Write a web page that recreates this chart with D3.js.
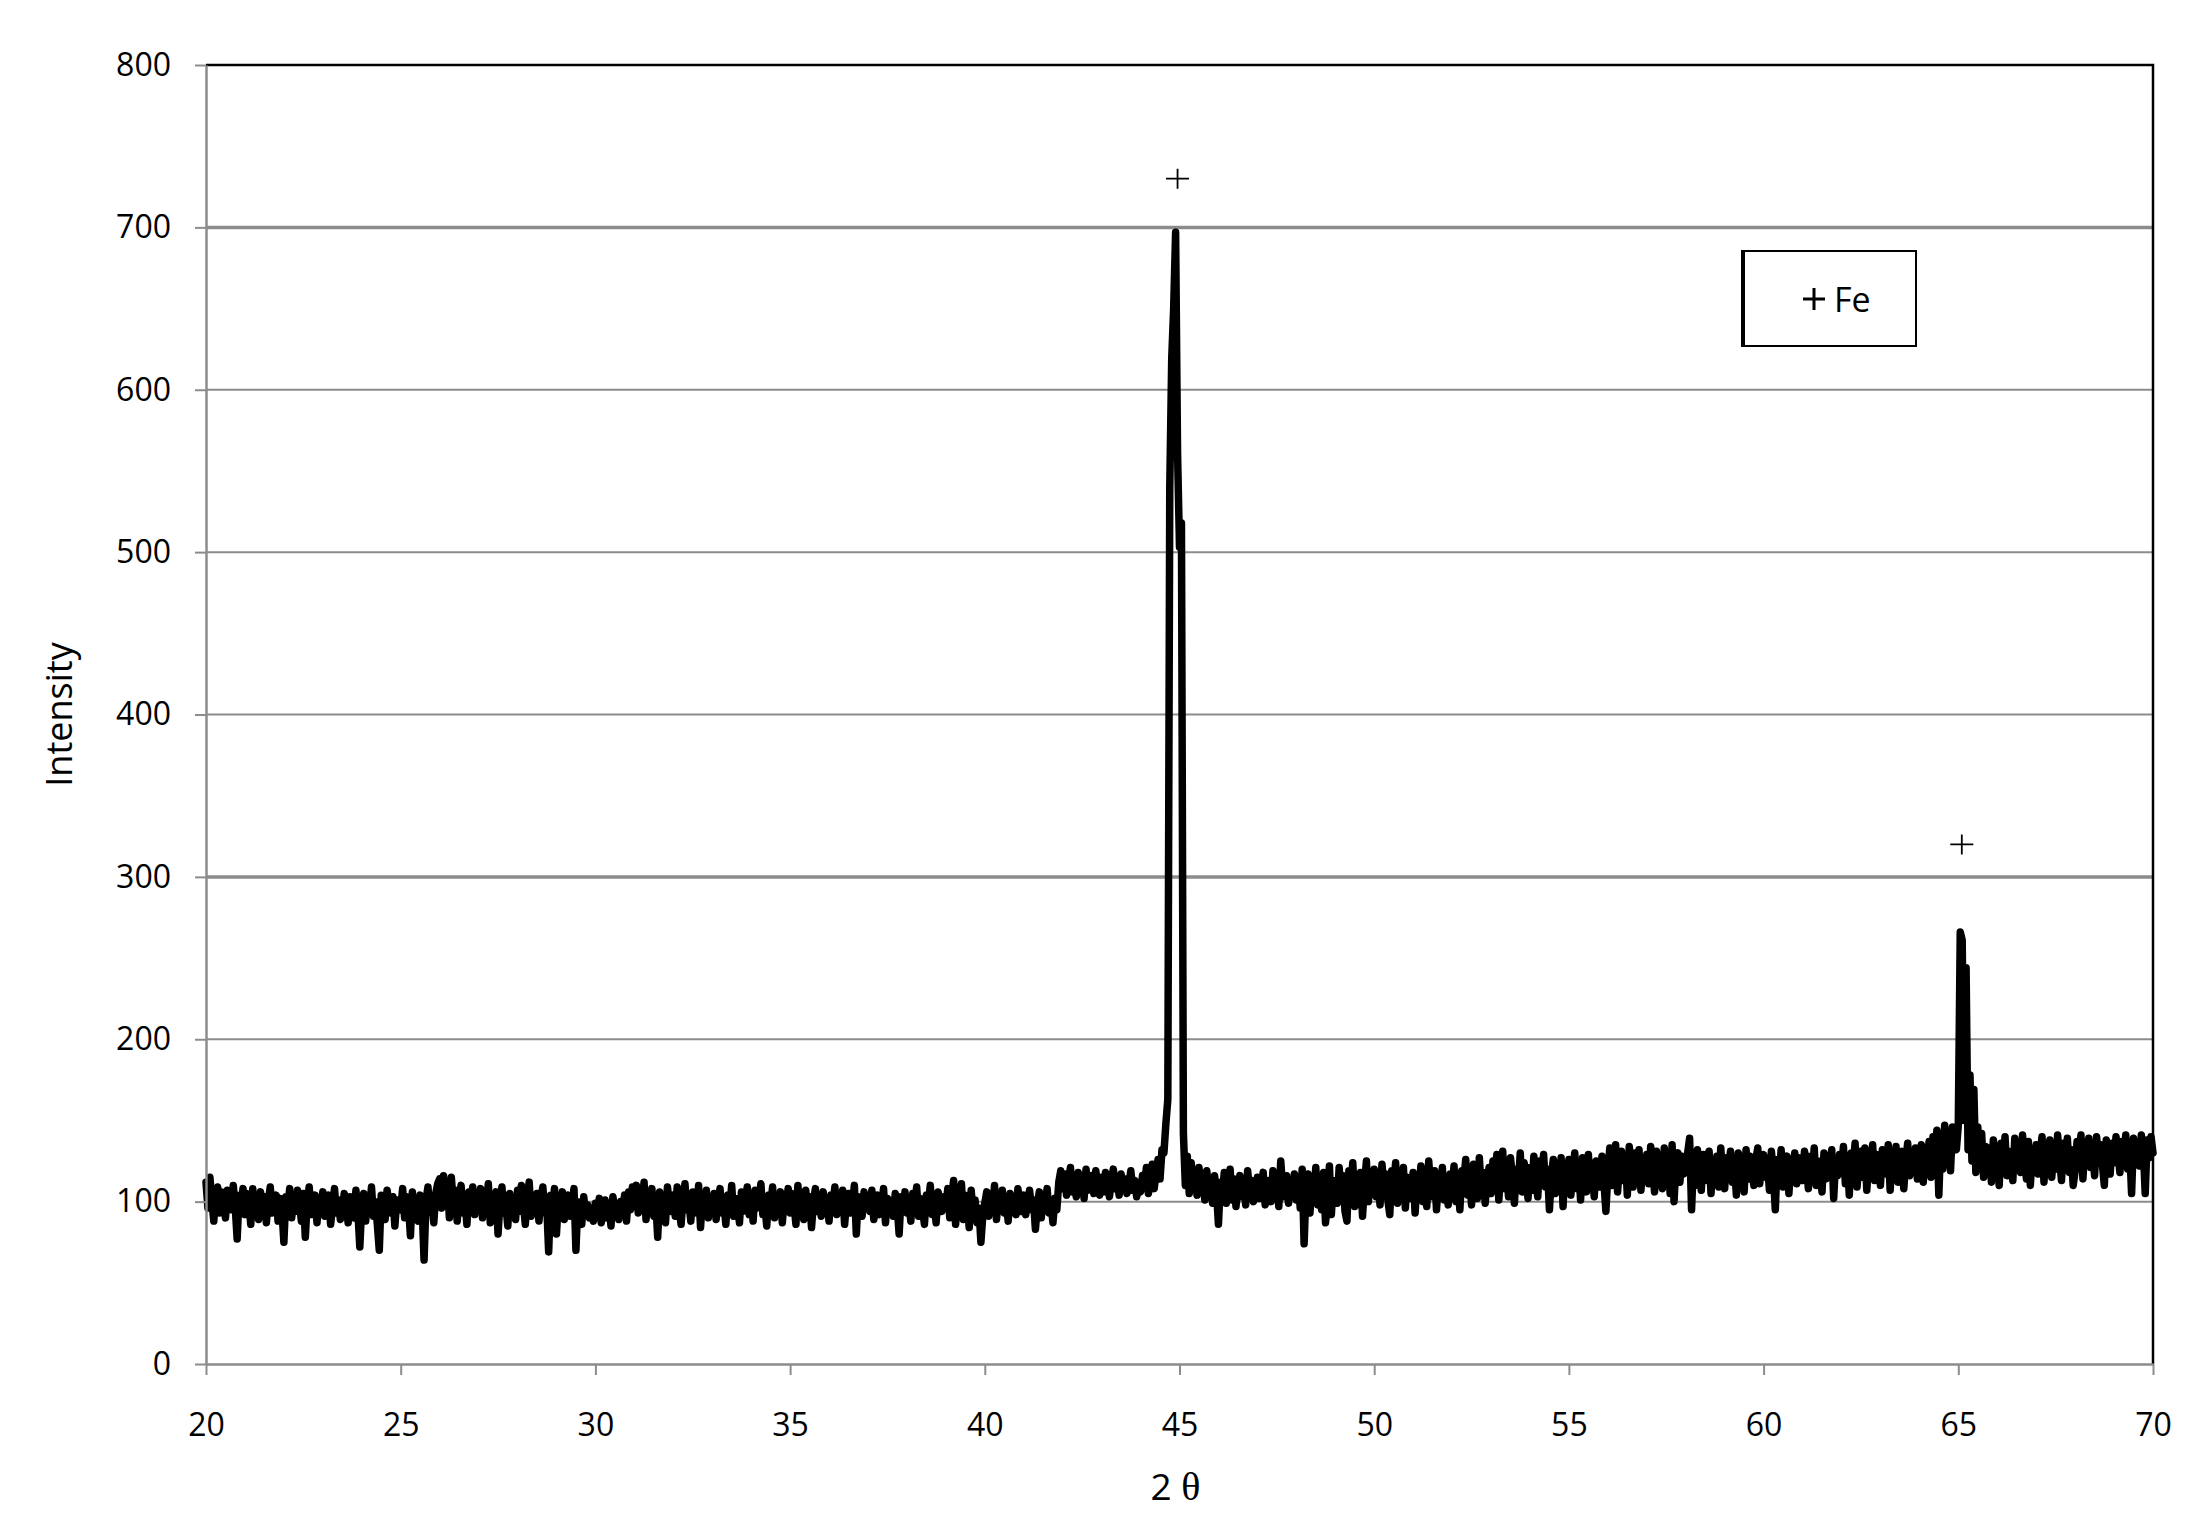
<!DOCTYPE html>
<html>
<head>
<meta charset="UTF-8">
<style>
  body { margin: 0; background: #fff; }
  svg { display: block; font-family: "Open Sans", sans-serif; }
</style>
</head>
<body>
<svg></svg>
<script src="https://d3js.org/d3.v7.min.js"></script>
<script>

// scan grid (2 theta, degrees)
const thetaStart = 20, thetaStep = 0.05;

// intensity counts, one row per degree (20 values each)
const intensity = [
  112, 96, 115, 101, 88, 104, 109, 93, 106, 98, 90, 107, 103, 95, 110, 97, 77, 104, 99, 108,      // 20
  92, 105, 99, 86, 108, 94, 101, 89, 106, 97, 103, 87, 100, 109, 93, 98, 104, 88, 102, 95,        // 21
  75, 103, 96, 108, 90, 101, 94, 107, 99, 88, 105, 78, 100, 109, 92, 97, 104, 87, 101, 95,        // 22
  106, 91, 99, 104, 86, 97, 108, 93, 101, 89, 95, 105, 98, 87, 103, 96, 90, 107, 94, 72,          // 23
  98, 105, 88, 102, 94, 109, 91, 100, 86, 70, 104, 96, 89, 107, 99, 93, 103, 85, 101, 97,         // 24
  95, 108, 90, 103, 98, 79, 106, 92, 100, 88, 104, 97, 64, 101, 109, 94, 99, 87, 105, 111,        // 25
  114, 96, 116, 102, 112, 90, 115, 99, 107, 88, 104, 110, 93, 101, 86, 106, 98, 109, 92, 103,     // 26
  97, 108, 90, 104, 99, 111, 87, 102, 95, 106, 80, 100, 109, 93, 98, 85, 105, 96, 101, 89,        // 27
  107, 94, 110, 99, 86, 103, 112, 91, 100, 96, 105, 88, 102, 109, 93, 98, 69, 104, 97, 108,       // 28
  80, 101, 94, 106, 89, 99, 104, 91, 97, 108, 70, 100, 95, 86, 103, 92, 98, 90, 96, 88,           // 29
  99, 92, 102, 87, 96, 101, 90, 98, 85, 103, 94, 97, 89, 100, 93, 104, 88, 106, 95, 109,          // 30
  101, 110, 93, 105, 98, 112, 89, 103, 96, 108, 91, 100, 78, 106, 95, 102, 87, 109, 99, 94,       // 31
  104, 91, 109, 97, 86, 102, 111, 95, 100, 88, 106, 98, 93, 110, 84, 103, 96, 107, 90, 101,       // 32
  97, 105, 89, 101, 108, 93, 99, 86, 104, 95, 110, 91, 102, 98, 87, 106, 94, 100, 109, 92,        // 33
  103, 88, 107, 96, 100, 111, 92, 98, 85, 104, 97, 109, 90, 101, 94, 106, 87, 102, 99, 108,       // 34
  93, 105, 98, 86, 110, 95, 101, 89, 107, 97, 103, 84, 100, 108, 94, 99, 91, 106, 96, 102,        // 35
  88, 104, 99, 109, 92, 101, 95, 107, 86, 100, 105, 93, 98, 110, 80, 103, 96, 91, 106, 97,        // 36
  101, 94, 107, 89, 99, 104, 92, 98, 108, 87, 102, 95, 100, 91, 105, 97, 80, 103, 96, 106,        // 37
  93, 100, 88, 105, 97, 109, 91, 102, 95, 86, 104, 99, 110, 92, 98, 87, 106, 101, 94, 103,        // 38
  97, 108, 90, 103, 113, 86, 100, 95, 111, 89, 104, 98, 84, 107, 93, 101, 87, 96, 75, 92,         // 39
  99, 106, 91, 103, 95, 110, 89, 101, 97, 107, 93, 100, 88, 105, 96, 102, 92, 108, 98, 94,        // 40
  104, 92, 100, 107, 95, 101, 83, 98, 106, 90, 103, 96, 108, 93, 99, 87, 102, 95, 112, 119,       // 41
  108, 117, 104, 113, 121, 106, 110, 103, 118, 109, 114, 102, 120, 107, 111, 116, 105, 119, 110, 104, // 42
  115, 106, 118, 110, 103, 113, 120, 108, 112, 104, 117, 109, 114, 105, 111, 119, 107, 113, 103, 110, // 43
  106, 116, 109, 121, 105, 112, 123, 108, 118, 126, 114, 132, 130, 148, 163, 540, 619, 650, 697, 561, // 44
  503, 518, 142, 110, 128, 105, 124, 112, 118, 104, 121, 109, 115, 101, 119, 107, 113, 99, 116, 106, // 45
  86, 112, 104, 118, 99, 110, 120, 101, 114, 97, 108, 116, 103, 111, 98, 119, 106, 113, 100, 109, // 46
  115, 102, 110, 118, 98, 107, 113, 100, 119, 105, 111, 97, 125, 108, 103, 116, 99, 112, 106, 117, // 47
  101, 114, 96, 120, 74, 109, 117, 93, 112, 104, 121, 98, 110, 95, 118, 87, 100, 122, 92, 113,    // 48
  112, 99, 121, 105, 116, 94, 88, 119, 108, 124, 97, 113, 102, 118, 91, 110, 125, 100, 115, 106,  // 49
  120, 103, 114, 98, 123, 109, 117, 101, 92, 119, 107, 124, 99, 112, 105, 121, 96, 115, 110, 102, // 50
  118, 93, 113, 106, 122, 100, 116, 97, 125, 109, 103, 119, 95, 114, 107, 121, 101, 111, 98, 117, // 51
  108, 122, 100, 116, 95, 119, 112, 126, 104, 115, 98, 123, 110, 102, 127, 107, 118, 99, 113, 121, // 52
  105, 125, 112, 129, 101, 118, 131, 108, 122, 103, 127, 115, 99, 120, 110, 130, 106, 124, 114, 102, // 53
  121, 107, 128, 113, 103, 125, 117, 129, 109, 120, 95, 116, 126, 105, 119, 111, 127, 97, 123, 110, // 54
  126, 104, 118, 130, 108, 122, 101, 127, 114, 106, 129, 111, 120, 103, 125, 116, 109, 128, 112, 94, // 55
  117, 133, 110, 126, 135, 106, 124, 131, 113, 128, 104, 134, 120, 109, 130, 116, 132, 107, 125, 119, // 56
  129, 111, 134, 122, 106, 131, 118, 127, 108, 133, 115, 126, 105, 135, 100, 124, 130, 112, 128, 117, // 57
  121, 130, 139, 95, 126, 110, 132, 118, 107, 129, 123, 113, 131, 105, 125, 119, 128, 109, 133, 116, // 58
  108, 127, 120, 131, 112, 125, 104, 130, 117, 122, 106, 132, 114, 128, 119, 110, 126, 133, 111, 124, // 59
  129, 115, 123, 107, 131, 118, 95, 126, 112, 132, 109, 121, 128, 105, 124, 116, 130, 111, 127, 120, // 60
  113, 131, 122, 108, 128, 117, 133, 110, 125, 119, 106, 130, 114, 127, 121, 132, 102, 126, 116, 129, // 61
  118, 134, 111, 128, 104, 130, 122, 136, 109, 125, 131, 115, 133, 107, 127, 120, 135, 113, 129, 124, // 62
  110, 132, 126, 117, 135, 107, 129, 121, 134, 112, 127, 131, 108, 125, 136, 116, 130, 119, 133, 114, // 63
  128, 135, 112, 131, 123, 137, 115, 140, 126, 144, 104, 138, 120, 147, 129, 142, 119, 146, 136, 132, // 64
  147, 266, 261, 150, 244, 132, 178, 125, 169, 118, 146, 121, 142, 115, 134, 120, 133, 112, 138, 124, // 65
  127, 110, 136, 121, 140, 116, 131, 125, 113, 139, 122, 134, 118, 141, 126, 114, 137, 110, 130, 123, // 66
  135, 117, 129, 140, 112, 133, 124, 138, 115, 131, 120, 141, 127, 113, 136, 122, 139, 118, 132, 110, // 67
  119, 137, 128, 141, 114, 134, 125, 139, 121, 132, 116, 140, 127, 135, 123, 110, 138, 129, 117, 136, // 68
  124, 140, 131, 118, 137, 126, 141, 120, 134, 105, 139, 128, 136, 122, 141, 133, 105, 138, 127, 140, // 69
  130                                                                                              // 70
];

const xTicks = [20, 25, 30, 35, 40, 45, 50, 55, 60, 65, 70];
const yTicks = [0, 100, 200, 300, 400, 500, 600, 700, 800];
const peakMarks = [{ t: 44.95, v: 730 }, { t: 65.09, v: 320 }];
const legendLabel = "Fe";
const xTitle = "2", xTitleSym = "θ";
const yTitle = "Intensity";

const width = 2202, height = 1527;
const margin = { top: 65, right: 49, bottom: 163, left: 206 };

const svg = d3.select("svg")
    .attr("width", width)
    .attr("height", height);

svg.append("rect").attr("width", width).attr("height", height).attr("fill", "#fff");

const x = d3.scaleLinear().domain([20, 70]).range([margin.left, width - margin.right]);
const y = d3.scaleLinear().domain([0, 800]).range([height - margin.bottom, margin.top]);

const data = intensity.map((v, i) => ({ t: thetaStart + i * thetaStep, v: v }));

// gridlines
svg.append("g")
    .selectAll("line")
    .data(yTicks.filter(d => d > 0 && d < 800))
    .join("line")
    .attr("x1", x(20)).attr("x2", x(70))
    .attr("y1", d => y(d)).attr("y2", d => y(d))
    .attr("stroke", "#8c8c8c")
    .attr("stroke-width", d => (d === 300 || d === 700) ? 3.5 : 2);

// plot area border, top and right
svg.append("path")
    .attr("d", `M${x(20)},${y(800)}H${x(70)}V${y(0)}`)
    .attr("fill", "none")
    .attr("stroke", "#000")
    .attr("stroke-width", 2.5);

// the scan
const line = d3.line()
    .x(d => x(d.t))
    .y(d => y(d.v));

svg.append("path")
    .datum(data)
    .attr("d", line)
    .attr("fill", "none")
    .attr("stroke", "#000")
    .attr("stroke-width", 7.5)
    .attr("stroke-linejoin", "round")
    .attr("stroke-linecap", "round");

// axes
const yAxis = svg.append("g")
    .attr("transform", `translate(${margin.left},0)`)
    .call(d3.axisLeft(y).tickValues(yTicks).tickSize(11).tickSizeOuter(0).tickPadding(24));

const xAxis = svg.append("g")
    .attr("transform", `translate(0,${height - margin.bottom})`)
    .call(d3.axisBottom(x).tickValues(xTicks).tickSize(11).tickSizeOuter(0).tickPadding(38));

[yAxis, xAxis].forEach(a => {
    a.select(".domain").attr("stroke", "#8c8c8c").attr("stroke-width", 2.5);
    a.selectAll(".tick line").attr("stroke", "#8c8c8c").attr("stroke-width", 2);
    a.selectAll(".tick text")
        .attr("fill", "#000")
        .style("font-family", "'Open Sans', sans-serif")
        .style("font-size", "32px");
});

// peak markers
svg.append("g")
    .selectAll("path")
    .data(peakMarks)
    .join("path")
    .attr("d", d => `M${x(d.t) - 11.5},${y(d.v)}h23M${x(d.t)},${y(d.v) - 10}v20`)
    .attr("stroke", "#000")
    .attr("stroke-width", 1.8)
    .attr("fill", "none");

// legend
const legend = svg.append("g");
legend.append("rect")
    .attr("x", 1742).attr("y", 251)
    .attr("width", 174).attr("height", 95)
    .attr("fill", "#fff")
    .attr("stroke", "#000")
    .attr("stroke-width", 2);
legend.append("line")
    .attr("x1", 1743).attr("x2", 1743)
    .attr("y1", 250).attr("y2", 347)
    .attr("stroke", "#000")
    .attr("stroke-width", 4);
legend.append("path")
    .attr("d", "M1803,299h22M1814,288v22")
    .attr("stroke", "#000")
    .attr("stroke-width", 3);
legend.append("text")
    .attr("x", 1834).attr("y", 312)
    .style("font-size", "34px")
    .text(legendLabel);

// axis titles
const xt = svg.append("text")
    .attr("x", (x(20) + x(70)) / 2 - 4)
    .attr("y", 1500)
    .attr("text-anchor", "middle")
    .style("font-size", "37px");
xt.append("tspan").text(xTitle + " ");
xt.append("tspan").style("font-family", "'Liberation Serif', serif").style("font-size", "40px").text(xTitleSym);

svg.append("text")
    .attr("transform", `translate(72,${(y(0) + y(800)) / 2}) rotate(-90)`)
    .attr("text-anchor", "middle")
    .style("font-size", "36px")
    .text(yTitle);

</script>
</body>
</html>
